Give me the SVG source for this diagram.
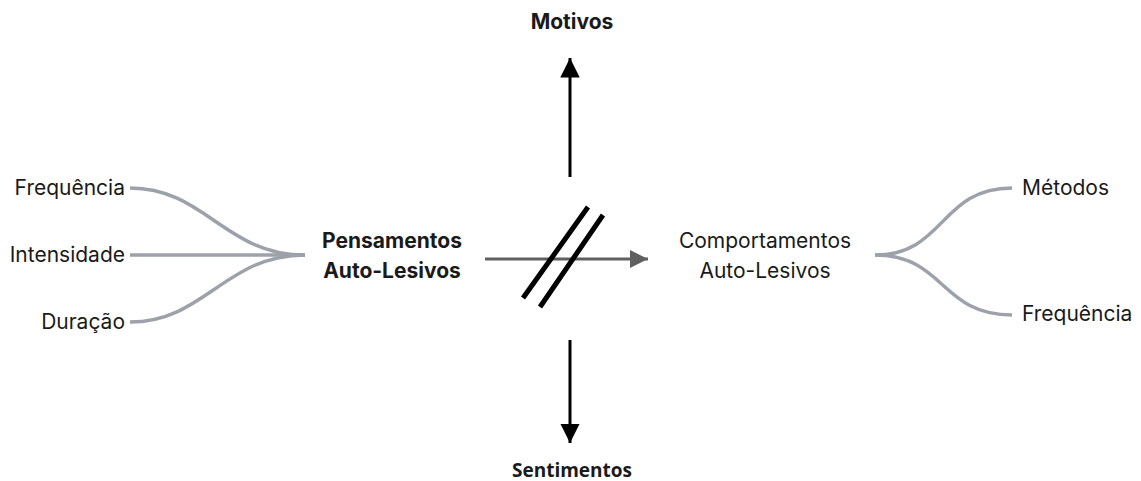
<svg xmlns="http://www.w3.org/2000/svg" width="1141" height="481" viewBox="0 0 1141 481">
  <defs>
    <marker id="headGray" viewBox="0 0 10 10" refX="10" refY="5" markerWidth="6" markerHeight="6" markerUnits="strokeWidth" orient="auto">
      <path d="M0,0 L10,5 L0,10 Z" fill="#5f5f5f"/>
    </marker>
    <marker id="headBlack" viewBox="0 0 10 10" refX="10" refY="5" markerWidth="6.5" markerHeight="6.5" markerUnits="strokeWidth" orient="auto">
      <path d="M0,0 L10,5 L0,10 Z" fill="#000"/>
    </marker>
  </defs>
  <style>
    .lbl { font-family: Inter, "Liberation Sans", sans-serif; font-size: 21px; fill: #1a1a1a; }
    .bold { font-weight: 700; }
    .branch { fill: none; stroke: #9da1a9; stroke-width: 3.5; stroke-linecap: butt; }
    .axis { fill: none; stroke: #000; stroke-width: 3; }
  </style>
  <rect width="1141" height="481" fill="#fff"/>

  <g id="connectors">
    <!-- left fan into Pensamentos -->
    <path class="branch" d="M130,188 C205,188 225,255 305,255"/>
    <path class="branch" d="M130,255 L305,255"/>
    <path class="branch" d="M130,322 C205,322 225,255 305,255"/>
    <!-- right fan out of Comportamentos -->
    <path class="branch" d="M875,255 C945,255 940,188 1012,188"/>
    <path class="branch" d="M875,255 C945,255 940,315 1012,315"/>
    <!-- blocked link -->
    <path d="M485,259 L648,259" fill="none" stroke="#5f5f5f" stroke-width="3" marker-end="url(#headGray)"/>
    <path d="M523,298 L588,207 M540,307 L603,215" fill="none" stroke="#000" stroke-width="5"/>
    <!-- vertical arrows -->
    <path class="axis" d="M570,177 L570,58" marker-end="url(#headBlack)"/>
    <path class="axis" d="M570,340 L570,443" marker-end="url(#headBlack)"/>
  </g>

  <g id="frequencia-l"><text class="lbl" x="125" y="195" text-anchor="end">Frequência</text></g>
  <g id="intensidade"><text class="lbl" x="125" y="262" text-anchor="end">Intensidade</text></g>
  <g id="duracao"><text class="lbl" x="125" y="329" text-anchor="end">Duração</text></g>

  <g id="pensamentos">
    <text class="lbl bold" x="392" y="248" text-anchor="middle">Pensamentos</text>
    <text class="lbl bold" x="392" y="278" text-anchor="middle">Auto-Lesivos</text>
  </g>

  <g id="comportamentos">
    <text class="lbl" x="765" y="248" text-anchor="middle">Comportamentos</text>
    <text class="lbl" x="765" y="278" text-anchor="middle">Auto-Lesivos</text>
  </g>

  <g id="metodos"><text class="lbl" x="1022" y="195">Métodos</text></g>
  <g id="frequencia-r"><text class="lbl" x="1022" y="321">Frequência</text></g>

  <g id="motivos"><text class="lbl bold" x="572" y="29" text-anchor="middle">Motivos</text></g>
  <g id="sentimentos"><text x="572" y="477" text-anchor="middle" style="font-family:'Open Sans','Liberation Sans',sans-serif;font-weight:700;font-size:19px;fill:#1a1a1a">Sentimentos</text></g>
</svg>
